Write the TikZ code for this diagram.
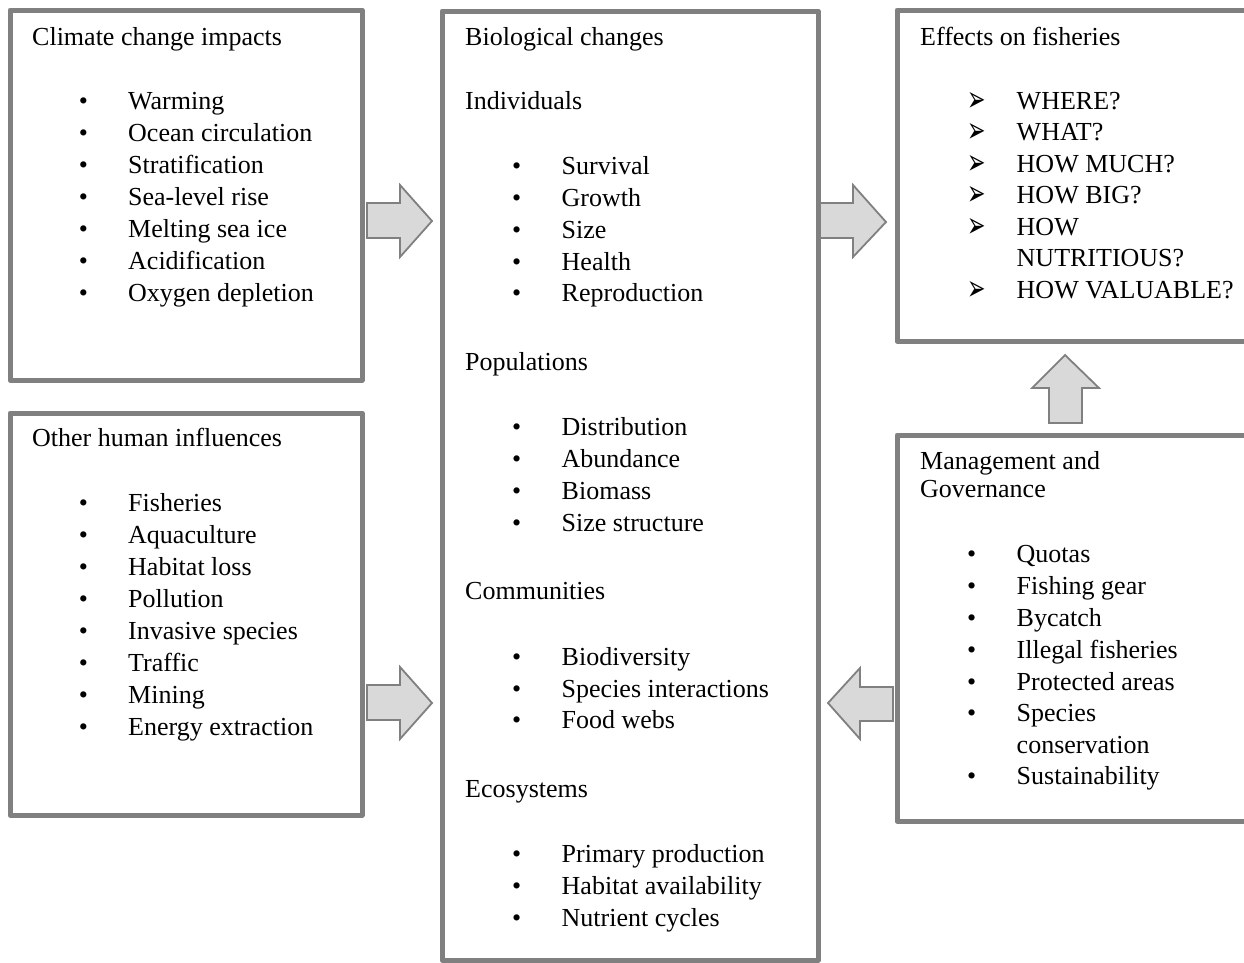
\documentclass[tikz,border=0pt]{standalone}
\usepackage{fontspec}
\setmainfont{Liberation Serif}
\newfontfamily\dejavu{DejaVu Sans}
\definecolor{boxgray}{RGB}{128,128,128}
\definecolor{arrowfill}{RGB}{217,217,217}
\newcommand\bitem[5]{%
  \node[bul] (#1b) at (#2,#4) {\textbullet};
  \node[txt] (#1) at (#3,#4) {#5};}
\newcommand\aitem[5]{%
  \node[inner sep=0pt, anchor=base] (#1b) at (#2,#4) {\smash{\raisebox{-2pt}{\scalebox{1.05}[1.7]{\dejavu\fontsize{21}{21}\selectfont ➢}}}};
  \node[txt] (#1) at (#3,#4) {#5};}
\begin{document}
\begin{tikzpicture}[x=1pt,y=-1pt,
  box/.style={draw=boxgray, line width=5pt, line join=round, rectangle, inner sep=0pt},
  blk/.style={draw=boxgray, fill=arrowfill, line width=1.8pt, line join=miter},
  txt/.style={anchor=base west, inner sep=0pt, font=\fontsize{26}{32}\selectfont},
  bul/.style={anchor=base, inner sep=0pt, font=\fontsize{26}{32}\selectfont}]
\useasboundingbox[fill=white] (0,0) rectangle (1244,962);

% block arrows
\draw[blk] (367,203) -- (400,203) -- (400,185) -- (432,221) -- (400,257) -- (400,238) -- (367,238) -- cycle;
\draw[blk] (367,685) -- (400,685) -- (400,667) -- (432,703) -- (400,739) -- (400,720) -- (367,720) -- cycle;
\draw[blk] (820,203) -- (853,203) -- (853,185) -- (886,222) -- (853,257) -- (853,238) -- (820,238) -- cycle;
\draw[blk] (893,687) -- (860,687) -- (860,668) -- (828,703) -- (860,739) -- (860,721) -- (893,721) -- cycle;
\draw[blk] (1049,423) -- (1049,388) -- (1032,388) -- (1065,355) -- (1099,388) -- (1082,388) -- (1082,423) -- cycle;

% boxes
\node[box, minimum width=352pt, minimum height=370pt] (climate) at (186,195) {};
\node[box, minimum width=352pt, minimum height=402pt] (human) at (186,614) {};
\node[box, minimum width=376pt, minimum height=949pt] (bio) at (630,485.5) {};
\node[box, minimum width=373pt, minimum height=331pt] (effects) at (1083.5,175.5) {};
\node[box, minimum width=373pt, minimum height=386pt] (mgmt) at (1083.5,628) {};

% climate change impacts
\node[txt] (climt) at (32,45) {Climate change impacts};
\bitem{c1}{83.3}{128}{109}{Warming}
\bitem{c2}{83.3}{128}{141}{Ocean circulation}
\bitem{c3}{83.3}{128}{173}{Stratification}
\bitem{c4}{83.3}{128}{205}{Sea-level rise}
\bitem{c5}{83.3}{128}{237}{Melting sea ice}
\bitem{c6}{83.3}{128}{269}{Acidification}
\bitem{c7}{83.3}{128}{301}{Oxygen depletion}

% other human influences
\node[txt] (humt) at (32,446) {Other human influences};
\bitem{h1}{83.3}{128}{511}{Fisheries}
\bitem{h2}{83.3}{128}{543}{Aquaculture}
\bitem{h3}{83.3}{128}{575}{Habitat loss}
\bitem{h4}{83.3}{128}{607}{Pollution}
\bitem{h5}{83.3}{128}{639}{Invasive species}
\bitem{h6}{83.3}{128}{671}{Traffic}
\bitem{h7}{83.3}{128}{703}{Mining}
\bitem{h8}{83.3}{128}{735}{Energy extraction}

% biological changes
\node[txt] (biot) at (465,45) {Biological changes};
\node[txt] (indt) at (465,109) {Individuals};
\bitem{i1}{516.7}{561.5}{174}{Survival}
\bitem{i2}{516.7}{561.5}{206}{Growth}
\bitem{i3}{516.7}{561.5}{238}{Size}
\bitem{i4}{516.7}{561.5}{270}{Health}
\bitem{i5}{516.7}{561.5}{301}{Reproduction}
\node[txt] (popt) at (465,370) {Populations};
\bitem{p1}{516.7}{561.5}{435}{Distribution}
\bitem{p2}{516.7}{561.5}{467}{Abundance}
\bitem{p3}{516.7}{561.5}{499}{Biomass}
\bitem{p4}{516.7}{561.5}{531}{Size structure}
\node[txt] (comt) at (465,599) {Communities};
\bitem{m1}{516.7}{561.5}{665}{Biodiversity}
\bitem{m2}{516.7}{561.5}{697}{Species interactions}
\bitem{m3}{516.7}{561.5}{728}{Food webs}
\node[txt] (ecot) at (465,797) {Ecosystems};
\bitem{e1}{516.7}{561.5}{862}{Primary production}
\bitem{e2}{516.7}{561.5}{894}{Habitat availability}
\bitem{e3}{516.7}{561.5}{926}{Nutrient cycles}

% effects on fisheries
\node[txt] (efft) at (920,45) {Effects on fisheries};
\aitem{f1}{976.5}{1016.5}{109}{WHERE?}
\aitem{f2}{976.5}{1016.5}{140}{WHAT?}
\aitem{f3}{976.5}{1016.5}{172}{HOW MUCH?}
\aitem{f4}{976.5}{1016.5}{203}{HOW BIG?}
\aitem{f5}{976.5}{1016.5}{235}{HOW}
\node[txt] (f5b2) at (1016.5,266) {NUTRITIOUS?};
\aitem{f6}{976.5}{1016.5}{298}{HOW VALUABLE?}

% management and governance
\node[txt] (mgt1) at (920,469) {Management and};
\node[txt] (mgt2) at (920,497) {Governance};
\bitem{g1}{971.7}{1016.5}{562}{Quotas}
\bitem{g2}{971.7}{1016.5}{594}{Fishing gear}
\bitem{g3}{971.7}{1016.5}{626}{Bycatch}
\bitem{g4}{971.7}{1016.5}{658}{Illegal fisheries}
\bitem{g5}{971.7}{1016.5}{690}{Protected areas}
\bitem{g6}{971.7}{1016.5}{721}{Species}
\node[txt] (g6b2) at (1016.5,753) {conservation};
\bitem{g7}{971.7}{1016.5}{784}{Sustainability}
\end{tikzpicture}
\end{document}
